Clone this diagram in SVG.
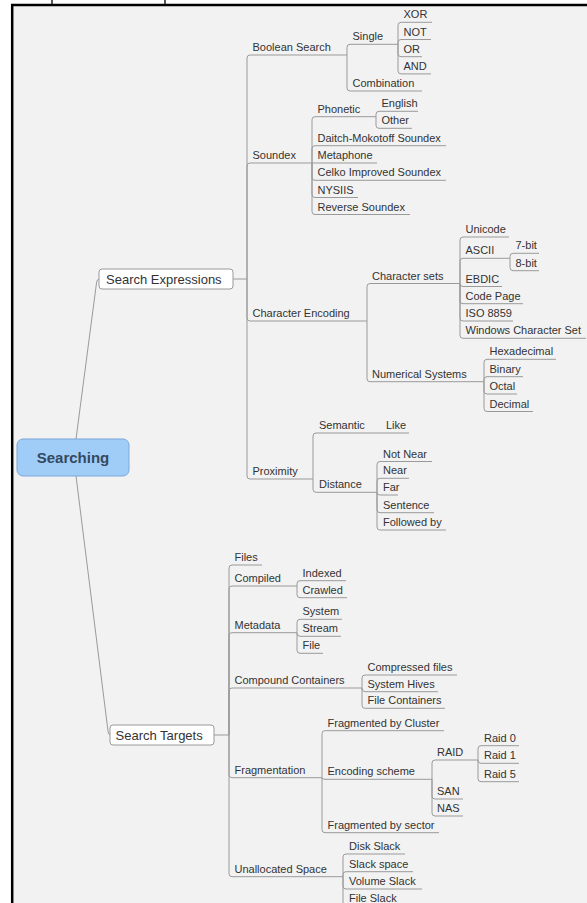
<svg xmlns="http://www.w3.org/2000/svg" width="587" height="903" viewBox="0 0 587 903">
<style>
.t{font-family:"Liberation Sans",Arial,sans-serif;font-size:11px;fill:#333}
.b{font-family:"Liberation Sans",Arial,sans-serif;font-size:13px;fill:#333}
.u{fill:none;stroke:#9a9a9a;stroke-width:1}
#connectors path{fill:none;stroke:#9a9a9a;stroke-width:1}
.box{fill:#fff;stroke:#9a9a9a;stroke-width:1}
</style>
<rect x="0" y="0" width="587" height="903" fill="#fff"/>
<rect x="11" y="4" width="576" height="899" fill="#f2f2f2"/>
<path d="M12.2,4V903M11,5H587" stroke="#000" stroke-width="2.5" fill="none"/>
<path d="M52,0V4M165,0V4" stroke="#222" stroke-width="1.5" fill="none"/>

<g id="connectors">
<path d="M76,439L96.5,283Q97,279 99,279"/>
<path d="M76,476L108,731Q108.5,735 110,735"/>
<path d="M233,279H247"/>
<path d="M247,279V58Q247,55 250,55"/>
<path d="M247,279V166Q247,163 250,163"/>
<path d="M247,279V318Q247,321 250,321"/>
<path d="M247,279V476Q247,479 250,479"/>
<path d="M347,55V47.3Q347,44.3 350,44.3"/>
<path d="M347,55V88Q347,91 350,91"/>
<path d="M398,44.3V25.3Q398,22.3 401,22.3"/>
<path d="M398,44.3V42.5Q398,39.5 401,39.5"/>
<path d="M398,44.3V53.7Q398,56.7 401,56.7"/>
<path d="M398,44.3V70.9Q398,73.9 401,73.9"/>
<path d="M312,163V119.7Q312,116.7 315,116.7"/>
<path d="M312,163V148.7Q312,145.7 315,145.7"/>
<path d="M312,163H315"/>
<path d="M312,163V177.3Q312,180.3 315,180.3"/>
<path d="M312,163V194.5Q312,197.5 315,197.5"/>
<path d="M312,163V211.5Q312,214.5 315,214.5"/>
<path d="M376,116.7V114.3Q376,111.3 379,111.3"/>
<path d="M376,116.7V125.3Q376,128.3 379,128.3"/>
<path d="M367,321V286.5Q367,283.5 370,283.5"/>
<path d="M367,321V378.7Q367,381.7 370,381.7"/>
<path d="M460,283.5V240Q460,237 463,237"/>
<path d="M460,283.5V261.3Q460,258.3 463,258.3"/>
<path d="M460,283.5Q460,286.5 463,286.5"/>
<path d="M460,283.5V300.7Q460,303.7 463,303.7"/>
<path d="M460,283.5V318Q460,321 463,321"/>
<path d="M460,283.5V335.3Q460,338.3 463,338.3"/>
<path d="M510,258.3V256.3Q510,253.3 513,253.3"/>
<path d="M510,258.3V267.7Q510,270.7 513,270.7"/>
<path d="M484,381.7V362.3Q484,359.3 487,359.3"/>
<path d="M484,381.7V379.7Q484,376.7 487,376.7"/>
<path d="M484,381.7V391Q484,394 487,394"/>
<path d="M484,381.7V408.5Q484,411.5 487,411.5"/>
<path d="M313,479V436Q313,433 316,433"/>
<path d="M313,479V489.3Q313,492.3 316,492.3"/>
<path d="M380,433H383"/>
<path d="M377,492.3V464.5Q377,461.5 380,461.5"/>
<path d="M377,492.3V481.3Q377,478.3 380,478.3"/>
<path d="M377,492.3Q377,495 380,495"/>
<path d="M377,492.3V509.7Q377,512.7 380,512.7"/>
<path d="M377,492.3V527Q377,530 380,530"/>
<path d="M214,735H229"/>
<path d="M229,735V568Q229,565 232,565"/>
<path d="M229,735V589Q229,586 232,586"/>
<path d="M229,735V635.7Q229,632.7 232,632.7"/>
<path d="M229,735V691Q229,688 232,688"/>
<path d="M229,735V774.7Q229,777.7 232,777.7"/>
<path d="M229,735V873.7Q229,876.7 232,876.7"/>
<path d="M297,586V583.7Q297,580.7 300,580.7"/>
<path d="M297,586V594.7Q297,597.7 300,597.7"/>
<path d="M297,632.7V622.3Q297,619.3 300,619.3"/>
<path d="M297,632.7Q297,636.3 300,636.3"/>
<path d="M297,632.7V650.3Q297,653.3 300,653.3"/>
<path d="M362,688V678Q362,675 365,675"/>
<path d="M362,688Q362,691.7 365,691.7"/>
<path d="M362,688V705.3Q362,708.3 365,708.3"/>
<path d="M322,777.7V733.7Q322,730.7 325,730.7"/>
<path d="M322,777.7Q322,779.3 325,779.3"/>
<path d="M322,777.7V829.7Q322,832.7 325,832.7"/>
<path d="M432,779.3V763Q432,760 435,760"/>
<path d="M432,779.3V796Q432,799 435,799"/>
<path d="M432,779.3V813Q432,816 435,816"/>
<path d="M478,760V748.7Q478,745.7 481,745.7"/>
<path d="M478,760Q478,763.3 481,763.3"/>
<path d="M478,760V778.7Q478,781.7 481,781.7"/>
<path d="M343,876.7V857Q343,854 346,854"/>
<path d="M343,876.7V874.7Q343,871.7 346,871.7"/>
<path d="M343,876.7V886Q343,889 346,889"/>
<path d="M343,876.7V903Q343,906 346,906"/>
</g>

<g id="root"><rect x="17" y="439" width="112" height="37" rx="6" fill="#a0cdf8" stroke="#7aa7d8" stroke-width="1"/><text x="73" y="463" text-anchor="middle" font-family="Liberation Sans,Arial,sans-serif" font-size="15" font-weight="bold" fill="#34495e">Searching</text></g>

<g id="search-expressions"><rect class="box" x="99" y="269" width="134" height="20" rx="3"/><text class="b" x="106" y="283.5">Search Expressions</text></g>
<g id="boolean-search"><path class="u" d="M250,55H347"/><text class="t" x="252.5" y="51">Boolean Search</text></g>
<g id="single"><path class="u" d="M350,44.3H398"/><text class="t" x="352.5" y="40.3">Single</text></g>
<g id="xor"><path class="u" d="M401,22.3H432"/><text class="t" x="403.5" y="18.3">XOR</text></g>
<g id="not"><path class="u" d="M401,39.5H431"/><text class="t" x="403.5" y="35.5">NOT</text></g>
<g id="or"><path class="u" d="M401,56.7H422"/><text class="t" x="403.5" y="52.7">OR</text></g>
<g id="and"><path class="u" d="M401,73.9H431"/><text class="t" x="403.5" y="69.9">AND</text></g>
<g id="combination"><path class="u" d="M350,91H422"/><text class="t" x="352.5" y="87">Combination</text></g>

<g id="soundex"><path class="u" d="M250,163H312"/><text class="t" x="252.5" y="159">Soundex</text></g>
<g id="phonetic"><path class="u" d="M315,116.7H376"/><text class="t" x="317.5" y="112.7">Phonetic</text></g>
<g id="english"><path class="u" d="M379,111.3H418"/><text class="t" x="381.5" y="107.3">English</text></g>
<g id="other"><path class="u" d="M379,128.3H412"/><text class="t" x="381.5" y="124.3">Other</text></g>
<g id="daitch"><path class="u" d="M315,145.7H446"/><text class="t" x="317.5" y="141.7">Daitch-Mokotoff Soundex</text></g>
<g id="metaphone"><path class="u" d="M315,163H377"/><text class="t" x="317.5" y="159">Metaphone</text></g>
<g id="celko"><path class="u" d="M315,180.3H446"/><text class="t" x="317.5" y="176.3">Celko Improved Soundex</text></g>
<g id="nysiis"><path class="u" d="M315,197.5H358"/><text class="t" x="317.5" y="193.5">NYSIIS</text></g>
<g id="reverse-soundex"><path class="u" d="M315,214.5H410"/><text class="t" x="317.5" y="210.5">Reverse Soundex</text></g>

<g id="character-encoding"><path class="u" d="M250,321H367"/><text class="t" x="252.5" y="317">Character Encoding</text></g>
<g id="character-sets"><path class="u" d="M370,283.5H460"/><text class="t" x="372" y="279.5">Character sets</text></g>
<g id="unicode"><path class="u" d="M463,237H509"/><text class="t" x="465.5" y="233">Unicode</text></g>
<g id="ascii"><path class="u" d="M463,258.3H510"/><text class="t" x="465.5" y="254.3">ASCII</text></g>
<g id="7bit"><path class="u" d="M513,253.3H539"/><text class="t" x="515.5" y="249.3">7-bit</text></g>
<g id="8bit"><path class="u" d="M513,270.7H539"/><text class="t" x="515.5" y="266.7">8-bit</text></g>
<g id="ebdic"><path class="u" d="M463,286.5H502"/><text class="t" x="465.5" y="282.5">EBDIC</text></g>
<g id="code-page"><path class="u" d="M463,303.7H523"/><text class="t" x="465.5" y="299.7">Code Page</text></g>
<g id="iso8859"><path class="u" d="M463,321H513"/><text class="t" x="465.5" y="317">ISO 8859</text></g>
<g id="windows-cs"><path class="u" d="M463,338.3H586"/><text class="t" x="465.5" y="334.3">Windows Character Set</text></g>
<g id="numerical-systems"><path class="u" d="M370,381.7H484"/><text class="t" x="372" y="377.7">Numerical Systems</text></g>
<g id="hexadecimal"><path class="u" d="M487,359.3H556"/><text class="t" x="489.5" y="355.3">Hexadecimal</text></g>
<g id="binary"><path class="u" d="M487,376.7H523"/><text class="t" x="489.5" y="372.7">Binary</text></g>
<g id="octal"><path class="u" d="M487,394H517"/><text class="t" x="489.5" y="390">Octal</text></g>
<g id="decimal"><path class="u" d="M487,411.5H533"/><text class="t" x="489.5" y="407.5">Decimal</text></g>

<g id="proximity"><path class="u" d="M250,479H313"/><text class="t" x="252.5" y="475">Proximity</text></g>
<g id="semantic"><path class="u" d="M316,433H380"/><text class="t" x="319" y="429">Semantic</text></g>
<g id="like"><path class="u" d="M383,433H409"/><text class="t" x="386" y="429">Like</text></g>
<g id="distance"><path class="u" d="M316,492.3H377"/><text class="t" x="319" y="488.3">Distance</text></g>
<g id="not-near"><path class="u" d="M380,461.5H432"/><text class="t" x="383" y="457.5">Not Near</text></g>
<g id="near"><path class="u" d="M380,478.3H409"/><text class="t" x="383" y="474.3">Near</text></g>
<g id="far"><path class="u" d="M380,495H398"/><text class="t" x="383" y="491">Far</text></g>
<g id="sentence"><path class="u" d="M380,512.7H434"/><text class="t" x="383" y="508.7">Sentence</text></g>
<g id="followed-by"><path class="u" d="M380,530H446"/><text class="t" x="383" y="526">Followed by</text></g>

<g id="search-targets"><rect class="box" x="110" y="725" width="104" height="20" rx="3"/><text class="b" x="115.5" y="739.5">Search Targets</text></g>
<g id="files"><path class="u" d="M232,565H262"/><text class="t" x="234.5" y="561">Files</text></g>
<g id="compiled"><path class="u" d="M232,586H297"/><text class="t" x="234.5" y="582">Compiled</text></g>
<g id="indexed"><path class="u" d="M300,580.7H346"/><text class="t" x="302.5" y="576.7">Indexed</text></g>
<g id="crawled"><path class="u" d="M300,597.7H347"/><text class="t" x="302.5" y="593.7">Crawled</text></g>
<g id="metadata"><path class="u" d="M232,632.7H297"/><text class="t" x="234.5" y="628.7">Metadata</text></g>
<g id="system"><path class="u" d="M300,619.3H342"/><text class="t" x="302.5" y="615.3">System</text></g>
<g id="stream"><path class="u" d="M300,636.3H341"/><text class="t" x="302.5" y="632.3">Stream</text></g>
<g id="file"><path class="u" d="M300,653.3H323"/><text class="t" x="302.5" y="649.3">File</text></g>
<g id="compound-containers"><path class="u" d="M232,688H362"/><text class="t" x="234.5" y="684">Compound Containers</text></g>
<g id="compressed-files"><path class="u" d="M365,675H457"/><text class="t" x="367.5" y="671">Compressed files</text></g>
<g id="system-hives"><path class="u" d="M365,691.7H438"/><text class="t" x="367.5" y="687.7">System Hives</text></g>
<g id="file-containers"><path class="u" d="M365,708.3H445"/><text class="t" x="367.5" y="704.3">File Containers</text></g>
<g id="fragmentation"><path class="u" d="M232,777.7H322"/><text class="t" x="234.5" y="773.7">Fragmentation</text></g>
<g id="frag-cluster"><path class="u" d="M325,730.7H444"/><text class="t" x="327.5" y="726.7">Fragmented by Cluster</text></g>
<g id="encoding-scheme"><path class="u" d="M325,779.3H432"/><text class="t" x="327.5" y="775.3">Encoding scheme</text></g>
<g id="raid"><path class="u" d="M435,760H478"/><text class="t" x="437" y="756">RAID</text></g>
<g id="raid0"><path class="u" d="M481,745.7H519"/><text class="t" x="484" y="741.7">Raid 0</text></g>
<g id="raid1"><path class="u" d="M481,763.3H519"/><text class="t" x="484" y="759.3">Raid 1</text></g>
<g id="raid5"><path class="u" d="M481,781.7H519"/><text class="t" x="484" y="777.7">Raid 5</text></g>
<g id="san"><path class="u" d="M435,799H463"/><text class="t" x="437" y="795">SAN</text></g>
<g id="nas"><path class="u" d="M435,816H463"/><text class="t" x="437" y="812">NAS</text></g>
<g id="frag-sector"><path class="u" d="M325,832.7H439"/><text class="t" x="327.5" y="828.7">Fragmented by sector</text></g>
<g id="unallocated-space"><path class="u" d="M232,876.7H343"/><text class="t" x="234.5" y="872.7">Unallocated Space</text></g>
<g id="disk-slack"><path class="u" d="M346,854H405"/><text class="t" x="349" y="850">Disk Slack</text></g>
<g id="slack-space"><path class="u" d="M346,871.7H413"/><text class="t" x="349" y="867.7">Slack space</text></g>
<g id="volume-slack"><path class="u" d="M346,889H422"/><text class="t" x="349" y="885">Volume Slack</text></g>
<g id="file-slack"><path class="u" d="M346,906H410"/><text class="t" x="349" y="902">File Slack</text></g>
</svg>
